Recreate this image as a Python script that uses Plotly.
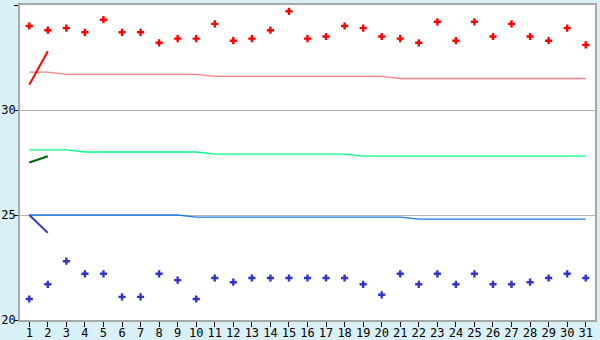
import plotly.graph_objects as go

days = list(range(1, 32))
red_points = [34.0, 33.8, 33.9, 33.7, 34.3, 33.7, 33.7, 33.2, 33.4, 33.4,
              34.1, 33.3, 33.4, 33.8, 34.7, 33.4, 33.5, 34.0, 33.9, 33.5,
              33.4, 33.2, 34.2, 33.3, 34.2, 33.5, 34.1, 33.5, 33.3, 33.9, 33.1]
blue_points = [21.0, 21.7, 22.8, 22.2, 22.2, 21.1, 21.1, 22.2, 21.9, 21.0,
               22.0, 21.8, 22.0, 22.0, 22.0, 22.0, 22.0, 22.0, 21.7, 21.2,
               22.2, 21.7, 22.2, 21.7, 22.2, 21.7, 21.7, 21.8, 22.0, 22.2, 22.0]
red_line = [31.8, 31.8] + [31.7] * 8 + [31.6] * 10 + [31.5] * 11
green_line = [28.1] * 3 + [28.0] * 7 + [27.9] * 8 + [27.8] * 13
blue_line = [25.0] * 9 + [24.9] * 12 + [24.8] * 10
short_x = [1, 2]
red_short = [31.2, 32.8]
green_short = [27.5, 27.8]
blue_short = [25.0, 24.15]

fig = go.Figure()
fig.add_trace(go.Scatter(x=days, y=red_line, mode="lines", line=dict(color="#ff8080", width=1.3), hoverinfo="skip"))
fig.add_trace(go.Scatter(x=days, y=green_line, mode="lines", line=dict(color="#00ff80", width=1.3), hoverinfo="skip"))
fig.add_trace(go.Scatter(x=days, y=blue_line, mode="lines", line=dict(color="#1e78e6", width=1.3), hoverinfo="skip"))
fig.add_trace(go.Scatter(x=short_x, y=red_short, mode="lines", line=dict(color="#ff0000", width=2)))
fig.add_trace(go.Scatter(x=short_x, y=green_short, mode="lines", line=dict(color="#006400", width=2)))
fig.add_trace(go.Scatter(x=short_x, y=blue_short, mode="lines", line=dict(color="#3333cc", width=2)))
fig.add_trace(go.Scatter(x=days, y=red_points, mode="markers",
                         marker=dict(symbol="cross", size=6, color="#ff0000", line=dict(width=0))))
fig.add_trace(go.Scatter(x=days, y=blue_points, mode="markers",
                         marker=dict(symbol="cross", size=6, color="#3333cc", line=dict(width=0))))

axis_font = dict(family="DejaVu Sans Mono", size=12, color="#000000")
fig.update_layout(
    width=600, height=340,
    margin=dict(l=20, r=5, t=5, b=20, autoexpand=False),
    paper_bgcolor="#daf0f7",
    plot_bgcolor="#ffffff",
    showlegend=False,
    xaxis=dict(range=[0.5, 31.5], tickmode="array", tickvals=days, ticktext=[str(d) for d in days],
               automargin=False, ticklabelstandoff=-4,
               showgrid=False, zeroline=False, showline=True, linecolor="#a8a8a8", linewidth=2,
               mirror=True, ticks="outside", ticklen=5, tickcolor="#000000", tickfont=axis_font),
    yaxis=dict(range=[20, 35], tickvals=[20, 25, 30, 35], showgrid=True, gridcolor="#b4b4b4", gridwidth=1,
               automargin=False, ticklabelstandoff=-4,
               zeroline=False, showline=True, linecolor="#a8a8a8", linewidth=2, mirror=True,
               ticks="outside", ticklen=4, tickcolor="#000000", tickfont=axis_font),
)
fig.write_html("out.html")
